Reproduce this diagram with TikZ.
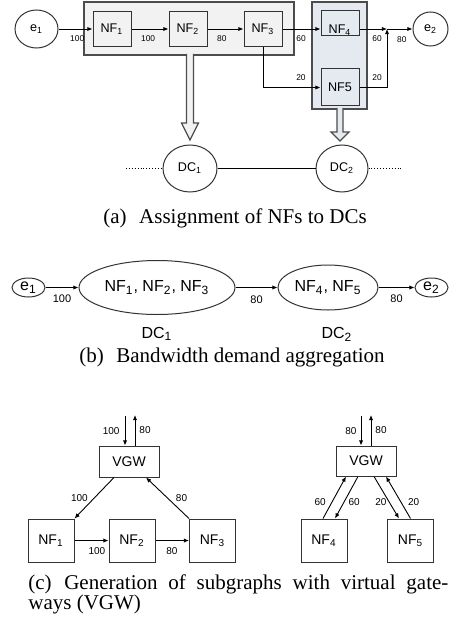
\documentclass[tikz,border=0pt]{standalone}
\usepackage{fontspec}
\setmainfont{Liberation Serif}
\setsansfont{Liberation Sans}
\usetikzlibrary{arrows.meta,shapes.geometric}
\definecolor{grpgray}{HTML}{F2F2F2}
\definecolor{grpblue}{HTML}{E5EAF1}

\begin{document}
\begin{tikzpicture}[x=0.5pt, y=-0.5pt,
    grp/.style={draw=black!70, line width=0.6pt},
    box/.style={draw=black!80, line width=0.5pt, inner sep=0pt, font=\sffamily\fontsize{6.3}{7}\selectfont},
    ell/.style={ellipse, draw=black!80, line width=0.5pt, inner sep=0pt, font=\sffamily\fontsize{6.3}{7}\selectfont},
    big/.style={font=\sffamily\fontsize{8}{9}\selectfont},
    flow/.style={-{Latex[length=2.6pt,width=2.2pt]}, line width=0.45pt},
    num/.style={font=\sffamily\fontsize{4.2}{5}\selectfont, inner sep=1pt},
    numb/.style={font=\sffamily\fontsize{5.5}{6}\selectfont, inner sep=1pt},
    numc/.style={font=\sffamily\fontsize{5}{6}\selectfont, inner sep=1pt},
    captxt/.style={font=\fontsize{10.5}{10}\selectfont, inner sep=0pt}]
    \useasboundingbox (0,0) rectangle (459,626);

    % (a) assignment
    \draw[grp, fill=grpgray] (84,2) rectangle (294,55);
    \draw[grp, fill=grpblue] (312,2) rectangle (367,109);
    \filldraw[grp, fill=grpgray] (186.5,54) -- (186.5,123) -- (181.5,123) -- (190,140) -- (198.5,123) -- (193.5,123) -- (193.5,54);
    \filldraw[grp, fill=grpblue] (337,108) -- (337,132) -- (331,132) -- (340,141) -- (349,132) -- (343,132) -- (343,108);

    \node[ell, minimum width=21.5pt, minimum height=19pt] (e1a) at (36.5,29) {e\textsubscript{1}};
    \node[box, fill=grpgray, minimum width=19pt, minimum height=17.5pt] (nf1a) at (112,29) {NF\textsubscript{1}};
    \node[box, fill=grpgray, minimum width=19pt, minimum height=17.5pt] (nf2a) at (188,29) {NF\textsubscript{2}};
    \node[box, fill=grpgray, minimum width=19pt, minimum height=17.5pt] (nf3a) at (263,29) {NF\textsubscript{3}};
    \node[box, fill=grpblue, minimum width=19pt, minimum height=12.5pt, text height=11pt, text depth=1pt] (nf4a) at (340,23.5) {NF\textsubscript{4}};
    \node[box, fill=grpblue, minimum width=19pt, minimum height=18.5pt] (nf5a) at (340,87.5) {NF5};
    \node[ell, minimum width=17.5pt, minimum height=17pt] (e2a) at (430.5,29) {e\textsubscript{2}};
    \coordinate (jn) at (387,29);

    \draw[flow] (e1a) -- node[num, below=2pt, pos=0.55] {100} (nf1a);
    \draw[flow] (nf1a) -- node[num, below=2pt, pos=0.45] {100} (nf2a);
    \draw[flow] (nf2a) -- node[num, below=2pt, pos=0.4] {80} (nf3a);
    \draw[flow] (nf3a) -- node[num, below=2pt, pos=0.49] {60} (nf4a.west |- nf3a);
    \draw[flow] (nf4a.east |- jn) -- node[num, below=2pt, pos=0.64] {60} (jn);
    \draw[flow] (jn) -- node[num, below=2.5pt, pos=0.58] {80} (e2a);
    \draw[flow] (nf3a) |- node[num, above=2pt, pos=0.83] {20} (nf5a);
    \draw[flow] (nf5a) -| node[num, above=2pt, pos=0.32] {20} (jn);

    \node[ell, minimum width=27pt, minimum height=23.5pt] (dc1a) at (190,168.5) {DC\textsubscript{1}};
    \node[ell, minimum width=26pt, minimum height=23.5pt] (dc2a) at (342,168.5) {DC\textsubscript{2}};
    \coordinate (lnL) at (126,168.5);
    \coordinate (lnR) at (403,168.5);
    \draw[line width=0.45pt] (dc1a) -- (dc2a);
    \draw[densely dotted, line width=0.45pt] (lnL) -- (dc1a);
    \draw[densely dotted, line width=0.45pt] (dc2a) -- (lnR);

    \node[captxt] (capa) at (235,218) {(a)\hspace{0.6em}Assignment of NFs to DCs};

    % (b) aggregation
    \node[ell, big, minimum width=16.5pt, minimum height=9.5pt] (e1b) at (28.5,287.5) {e\textsubscript{1}};
    \node[ell, big, minimum width=78pt, minimum height=27pt] (dc1b) at (157,287.5) {NF\textsubscript{1}, NF\textsubscript{2}, NF\textsubscript{3}};
    \node[ell, big, minimum width=50pt, minimum height=22.5pt] (dc2b) at (328,287.5) {NF\textsubscript{4}, NF\textsubscript{5}};
    \node[ell, big, minimum width=16.5pt, minimum height=9.5pt] (e2b) at (431.5,287.5) {e\textsubscript{2}};
    \draw[flow] (e1b) -- node[numb, below=2.2pt] {100} (dc1b);
    \draw[flow] (dc1b) -- node[numb, below=3pt] {80} (dc2b);
    \draw[flow] (dc2b) -- node[numb, below=2.2pt] {80} (e2b);
    \node[big] (dc1l) at (157,334) {DC\textsubscript{1}};
    \node[big] (dc2l) at (337,334) {DC\textsubscript{2}};

    \node[captxt] (capb) at (232,357) {(b)\hspace{0.6em}Bandwidth demand aggregation};

    % (c) subgraphs
    \node[box, font=\sffamily\fontsize{7}{8}\selectfont, minimum width=30pt, minimum height=15.5pt] (vgwA) at (129,461.5) {VGW};
    \node[box, font=\sffamily\fontsize{7}{8}\selectfont, minimum width=23pt, minimum height=21.5pt] (nf1c) at (51,540.5) {NF\textsubscript{1}};
    \node[box, font=\sffamily\fontsize{7}{8}\selectfont, minimum width=23pt, minimum height=21.5pt] (nf2c) at (132,540.5) {NF\textsubscript{2}};
    \node[box, font=\sffamily\fontsize{7}{8}\selectfont, minimum width=23pt, minimum height=21.5pt] (nf3c) at (212.5,540.5) {NF\textsubscript{3}};
    \coordinate (inA) at (125,416);
    \coordinate (outA) at (135,415);
    \draw[flow] (inA) -- node[numc, left=1.5pt] {100} (inA |- vgwA.north);
    \draw[flow] (outA |- vgwA.north) -- node[numc, right=1pt] {80} (outA);
    \draw[flow] ([xshift=-7.5pt]vgwA.south) -- node[numc, left=2pt] {100} (nf1c.north east);
    \draw[flow] (nf3c.north west) -- node[numc, right=3pt] {80} ([xshift=8.5pt]vgwA.south);
    \draw[flow] (nf1c) -- node[numc, below=2.5pt, pos=0.66] {100} (nf2c);
    \draw[flow] (nf2c) -- node[numc, below=2.5pt, pos=0.49] {80} (nf3c);

    \node[box, font=\sffamily\fontsize{7}{8}\selectfont, minimum width=30pt, minimum height=15pt] (vgwB) at (366,461) {VGW};
    \node[box, font=\sffamily\fontsize{7}{8}\selectfont, minimum width=23pt, minimum height=21.5pt] (nf4c) at (324,540.5) {NF\textsubscript{4}};
    \node[box, font=\sffamily\fontsize{7}{8}\selectfont, minimum width=23pt, minimum height=21.5pt] (nf5c) at (410.5,540.5) {NF\textsubscript{5}};
    \coordinate (inB) at (361,416);
    \coordinate (outB) at (371,415);
    \draw[flow] (inB) -- node[numc, left=1pt] {80} (inB |- vgwB.north);
    \draw[flow] (outB |- vgwB.north) -- node[numc, right=1pt] {80} (outB);
    \draw[flow] ([xshift=-0.5pt]nf4c.north) -- node[numc, left=2pt, pos=0.4] {60} ([xshift=-10pt]vgwB.south);
    \draw[flow] ([xshift=-4pt]vgwB.south) -- node[numc, right=1pt, pos=0.6] {60} ([xshift=5.5pt]nf4c.north);
    \draw[flow] ([xshift=4pt]vgwB.south) -- node[numc, left=0pt, pos=0.6] {20} ([xshift=-5.75pt]nf5c.north);
    \draw[flow] (nf5c.north) -- node[numc, right=2.5pt, pos=0.4] {20} ([xshift=10pt]vgwB.south);

    \node[captxt, text width=210pt, align=justify, anchor=north west] (capc) at (28,574) {(c)\hspace{0.6em}Generation of subgraphs with virtual gate-\linebreak ways (VGW)};
\end{tikzpicture}
\end{document}
